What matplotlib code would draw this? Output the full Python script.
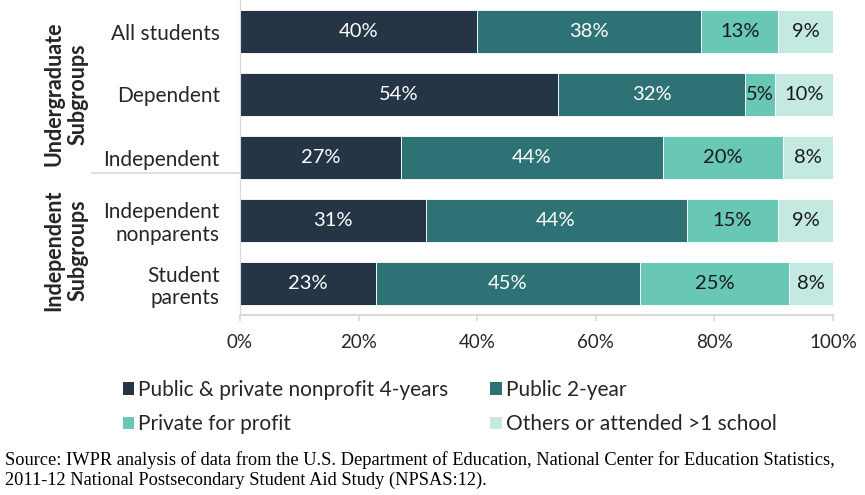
import matplotlib
matplotlib.use("Agg")
import matplotlib.pyplot as plt
from matplotlib.patches import Patch
from matplotlib.lines import Line2D

categories = ["All students", "Dependent", "Independent",
              "Independent\nnonparents", "Student\nparents"]
series_names = ["Public & private nonprofit 4-years", "Public 2-year",
                "Private for profit", "Others or attended >1 school"]
four_year = [40.0, 53.6, 27.1, 31.3, 22.9]
two_year = [37.8, 31.6, 44.3, 44.0, 44.6]
for_profit = [13.0, 5.0, 20.2, 15.4, 25.0]
others = [9.2, 9.8, 8.4, 9.3, 7.6]
x_ticks = [0, 20, 40, 60, 80, 100]
group_labels = ["Undergraduate\nSubgroups", "Independent\nSubgroups"]
source = ("Source: IWPR analysis of data from the U.S. Department of Education, National Center for Education Statistics,\n"
          "2011-12 National Postsecondary Student Aid Study (NPSAS:12).")

colors = ["#263545", "#2E7275", "#68C8B5", "#C3E9E0"]
text_colors = ["white", "white", "#1a1a1a", "#1a1a1a"]
font = "Lato"
txt = "#262626"

fig = plt.figure(figsize=(8.65, 4.95), dpi=100)
ax = fig.add_axes([240/865, 1-315/495, 593/865, 315/495])

series = [four_year, two_year, for_profit, others]
ypos = list(range(len(categories)))
left = [0.0]*len(categories)
for s, col, tc in zip(series, colors, text_colors):
    ax.barh(ypos, s, left=left, height=0.67, color=col,
            edgecolor="white", linewidth=0.6)
    for y, v, l in zip(ypos, s, left):
        ax.text(l + v/2, y, f"{v:.0f}%", ha="center", va="center",
                color=tc, fontsize=14.5, family=font)
    left = [a+b for a, b in zip(left, s)]

ax.set_xlim(0, 100)
ax.set_ylim(4.5, -0.5)
ax.set_xticks(x_ticks)
ax.set_xticklabels([f"{t}%" for t in x_ticks], fontsize=13.5, family=font, color=txt)
ax.set_yticks(ypos)
ax.set_yticklabels(categories, fontsize=15, family=font, color=txt, linespacing=1.15)
ax.tick_params(axis="y", length=0, pad=14.5)
ax.tick_params(axis="x", length=4, color="#d9d9d9", width=1.2, pad=10, direction="out")
for sp in ["top", "right"]:
    ax.spines[sp].set_visible(False)
ax.spines["left"].set_color("#d9d9d9")
ax.spines["bottom"].set_color("#d9d9d9")
ax.spines["bottom"].set_linewidth(1.5)

# group labels
fig.text(66/865, 1-94/495, group_labels[0], rotation=90, ha="center", va="center",
         fontsize=15.5, fontweight="bold", family=font, color=txt, linespacing=1.2)
fig.text(66/865, 1-250/495, group_labels[1], rotation=90, ha="center", va="center",
         fontsize=15.5, fontweight="bold", family=font, color=txt, linespacing=1.2)
fig.add_artist(Line2D([92/865, 240/865], [1-173/495, 1-173/495],
                      color="#d9d9d9", lw=1.2, transform=fig.transFigure))

handles = [Patch(facecolor=c, edgecolor="none") for c in colors]
order = [0, 2, 1, 3]
fig.legend([handles[i] for i in order], [series_names[i] for i in order],
           loc="upper left", bbox_to_anchor=(104/865, 1-361/495),
           ncol=2, frameon=False, prop={"family": font, "size": 15},
           handlelength=0.55, handleheight=0.55, handletextpad=0.2,
           columnspacing=2.0, labelspacing=0.7, labelcolor=txt)

fig.text(5/865, 1-470/495, source, ha="left", va="center", fontsize=13.2,
         family="Liberation Serif", color="black", linespacing=1.15)

fig.savefig("out.png", dpi=100)
